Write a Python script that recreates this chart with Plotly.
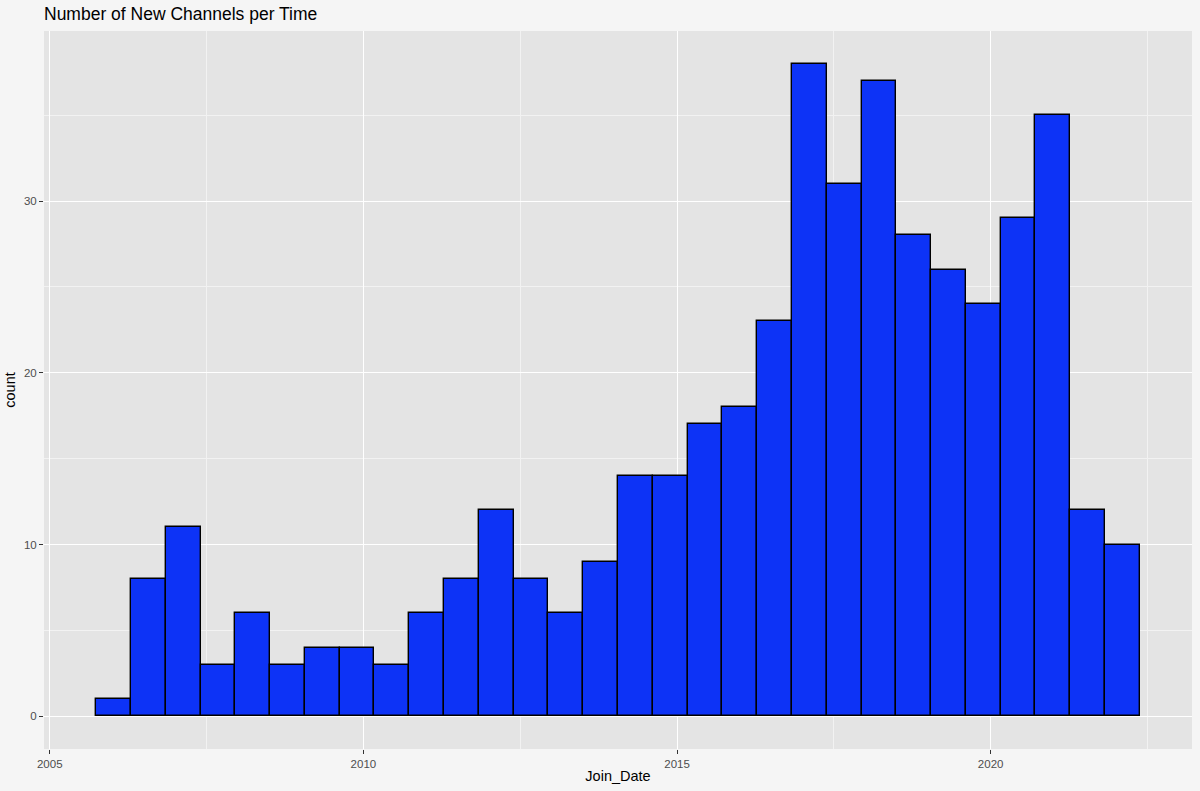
import plotly.graph_objects as go

# histogram of channel join dates (30 bins), decimal years
bin_start = 2005.740
bin_width = 0.5546
counts = [1, 8, 11, 3, 6, 3, 4, 4, 3, 6, 8, 12, 8, 6, 9,
          14, 14, 17, 18, 23, 38, 31, 37, 28, 26, 24, 29, 35, 12, 10]
x_ticks = [2005, 2010, 2015, 2020]
y_ticks = [0, 10, 20, 30]

centers = [bin_start + bin_width * (i + 0.5) for i in range(len(counts))]
x_lo = bin_start
x_hi = bin_start + bin_width * len(counts)
pad_x = 0.05 * (x_hi - x_lo)
pad_y = 0.05 * max(counts)

fig = go.Figure()
fig.add_trace(go.Bar(
    x=centers,
    y=counts,
    width=bin_width,
    marker=dict(color="#0D33F6", line=dict(color="black", width=1.4)),
    hovertemplate="%{x:.2f}: %{y}<extra></extra>",
))

axis_common = dict(
    showgrid=True,
    gridcolor="white",
    gridwidth=1.2,
    zeroline=False,
    ticks="outside",
    ticklen=4,
    tickwidth=1,
    tickcolor="#333333",
    tickfont=dict(size=11.5, color="#4D4D4D", family="Liberation Sans, Arial"),
    showline=False,
    automargin=False,
)

fig.update_layout(
    width=1200,
    height=791,
    paper_bgcolor="#F5F5F5",
    plot_bgcolor="#E4E4E4",
    showlegend=False,
    bargap=0,
    margin=dict(l=44, r=8, t=31, b=42),
    font=dict(family="Liberation Sans, Arial", color="black"),
    title=dict(
        text="Number of New Channels per Time",
        font=dict(size=17.5, color="black"),
        x=44 / 1200, xanchor="left",
        y=1 - 14 / 791, yanchor="middle",
    ),
    xaxis=dict(
        axis_common,
        range=[x_lo - pad_x, x_hi + pad_x],
        tickvals=x_ticks,
        ticktext=[str(v) for v in x_ticks],
        minor=dict(dtick=2.5, tick0=2005, showgrid=True, gridcolor="#F2F2F2", gridwidth=0.6),
        title=dict(text="Join_Date", font=dict(size=14.5), standoff=2),
    ),
    yaxis=dict(
        axis_common,
        range=[-pad_y, max(counts) + pad_y],
        tickvals=y_ticks,
        ticktext=[str(v) for v in y_ticks],
        minor=dict(dtick=5, tick0=0, showgrid=True, gridcolor="#F2F2F2", gridwidth=0.6),
        title=dict(text="count", font=dict(size=14.5), standoff=4),
    ),
)

fig.write_html(
    "out.html",
    config={"displayModeBar": False},
    post_script="document.body.style.margin='0';",
)
